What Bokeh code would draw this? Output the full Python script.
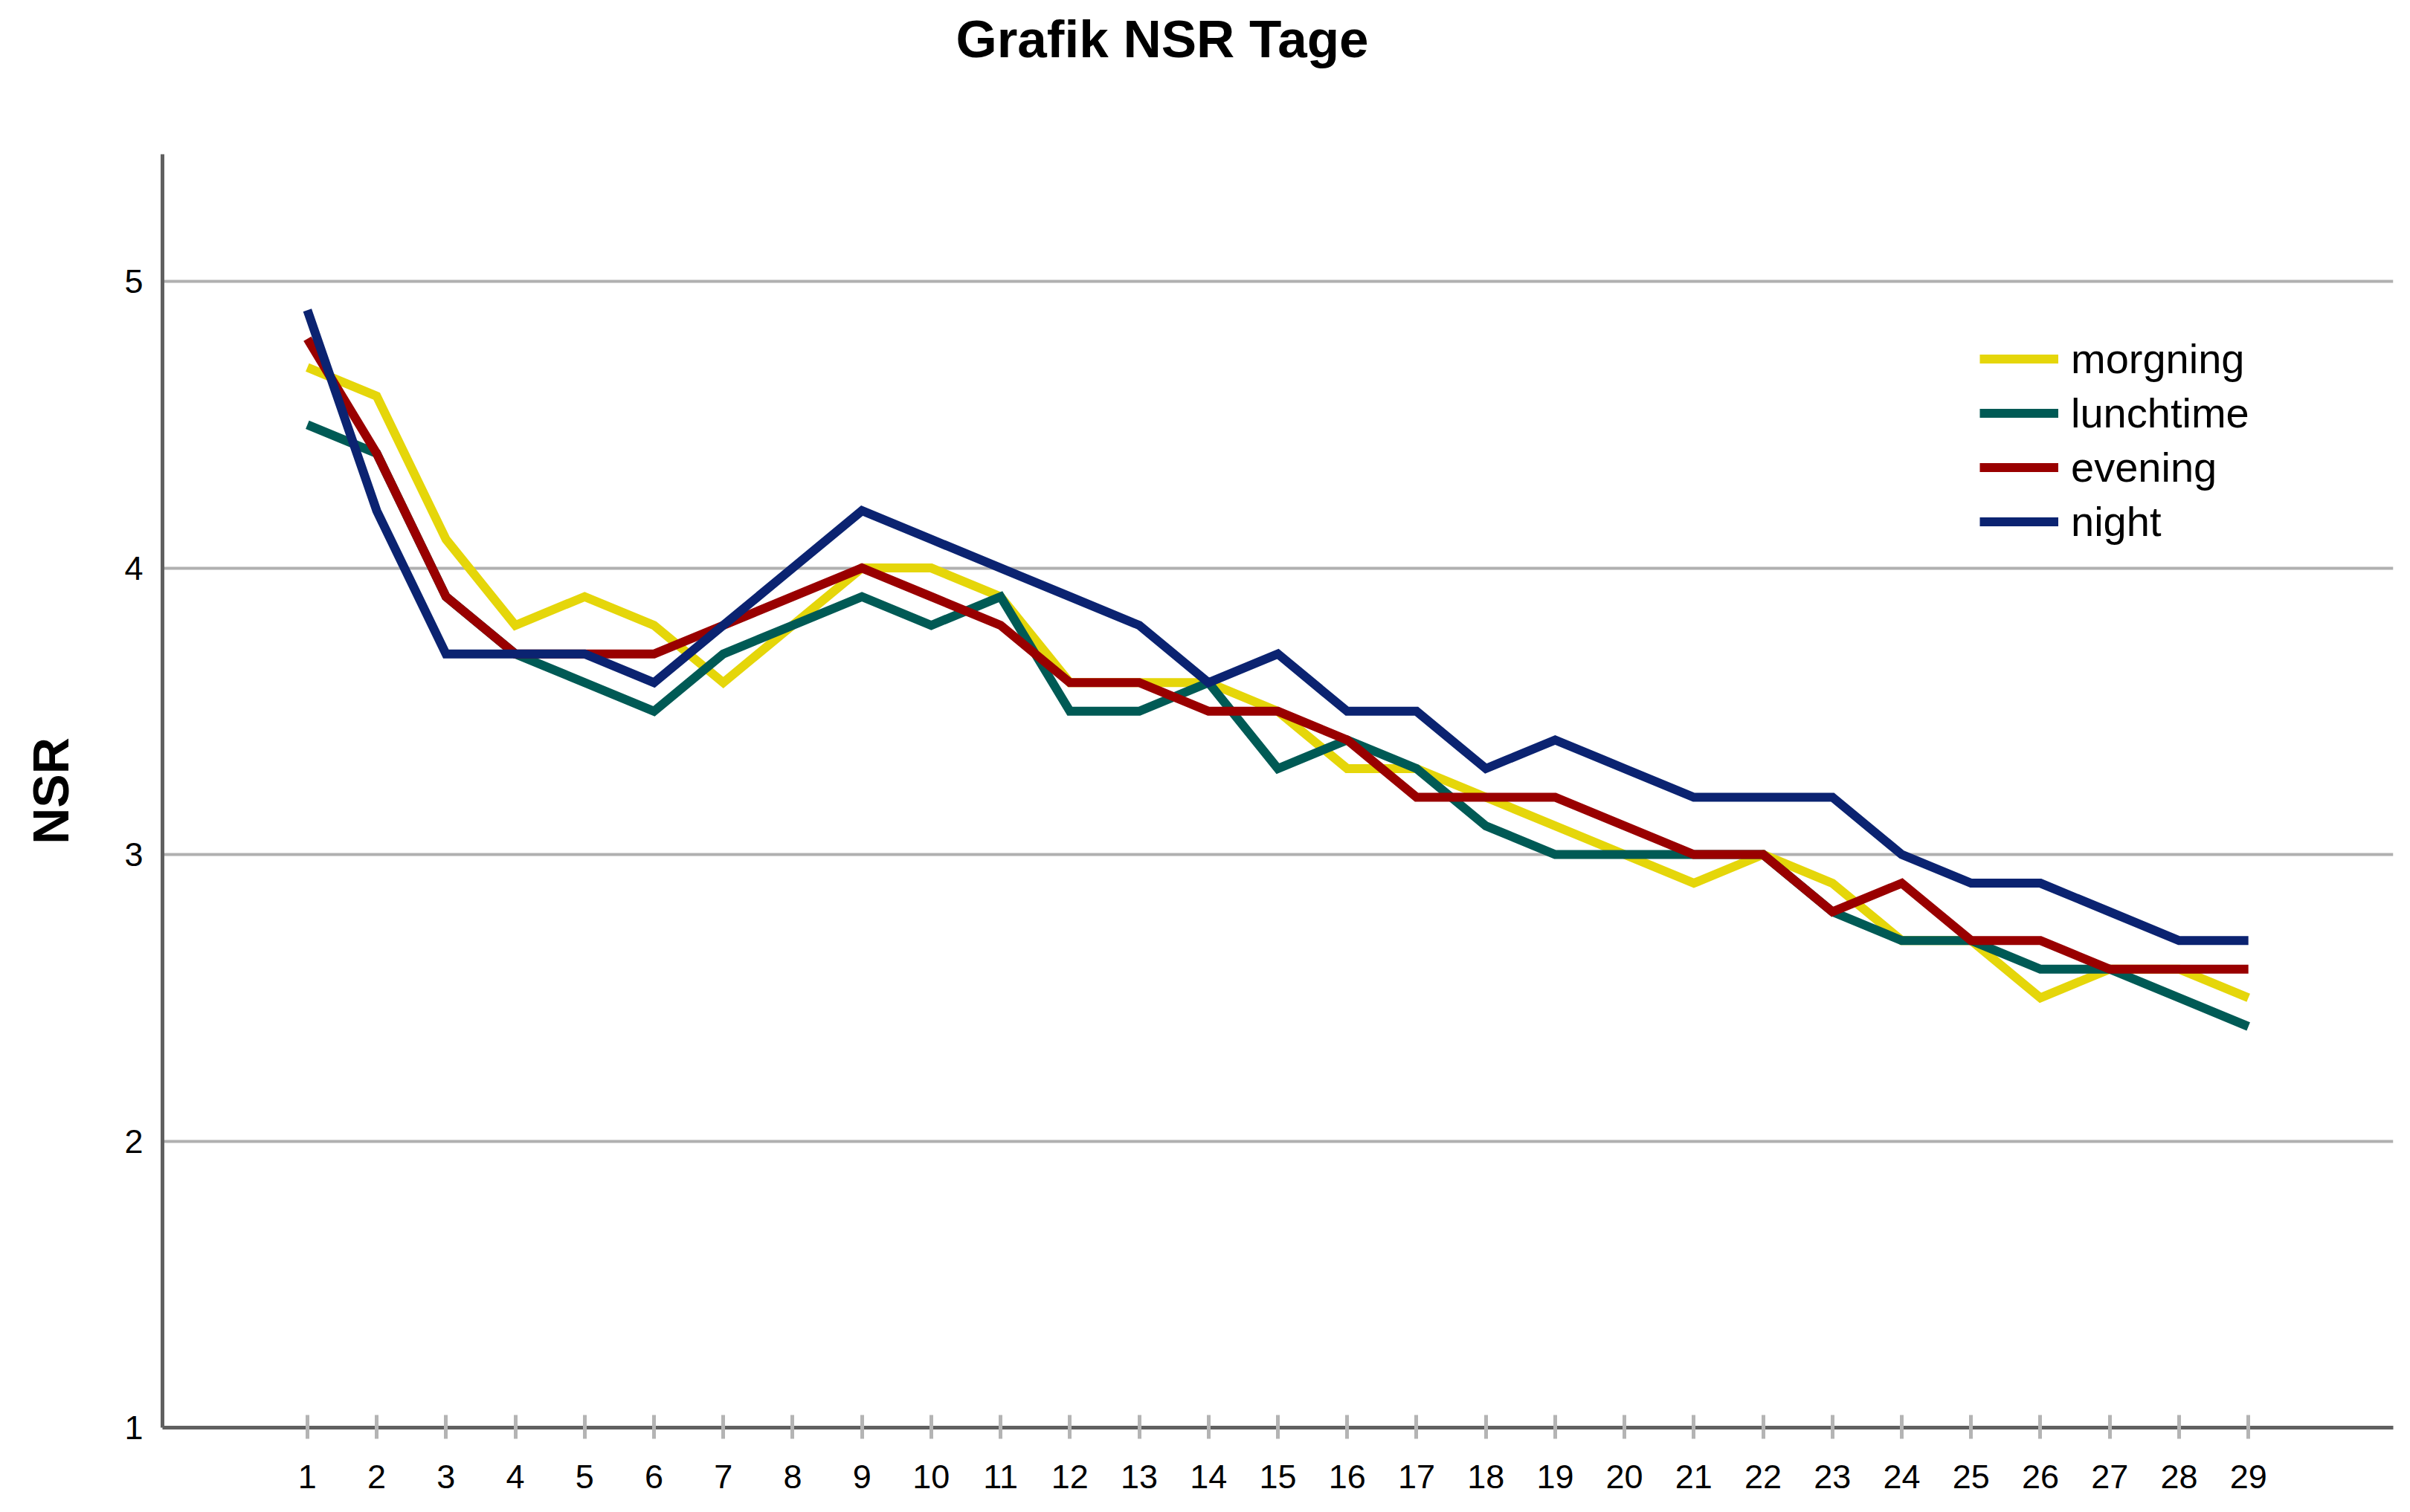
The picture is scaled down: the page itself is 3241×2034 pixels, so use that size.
from bokeh.plotting import figure
from bokeh.models import Range1d, FixedTicker, Legend, LegendItem, Title
from bokeh.embed import file_html
from bokeh.resources import INLINE

days = list(range(1, 30))
day_labels = [str(d) for d in days]
y_ticks = [1, 2, 3, 4, 5]

morgning = [4.7, 4.6, 4.1, 3.8, 3.9, 3.8, 3.6, 3.8, 4.0, 4.0, 3.9, 3.6, 3.6, 3.6, 3.5,
            3.3, 3.3, 3.2, 3.1, 3.0, 2.9, 3.0, 2.9, 2.7, 2.7, 2.5, 2.6, 2.6, 2.5]
lunchtime = [4.5, 4.4, 3.9, 3.7, 3.6, 3.5, 3.7, 3.8, 3.9, 3.8, 3.9, 3.5, 3.5, 3.6, 3.3,
             3.4, 3.3, 3.1, 3.0, 3.0, 3.0, 3.0, 2.8, 2.7, 2.7, 2.6, 2.6, 2.5, 2.4]
evening = [4.8, 4.4, 3.9, 3.7, 3.7, 3.7, 3.8, 3.9, 4.0, 3.9, 3.8, 3.6, 3.6, 3.5, 3.5,
           3.4, 3.2, 3.2, 3.2, 3.1, 3.0, 3.0, 2.8, 2.9, 2.7, 2.7, 2.6, 2.6, 2.6]
night = [4.9, 4.2, 3.7, 3.7, 3.7, 3.6, 3.8, 4.0, 4.2, 4.1, 4.0, 3.9, 3.8, 3.6, 3.7,
         3.5, 3.5, 3.3, 3.4, 3.3, 3.2, 3.2, 3.2, 3.0, 2.9, 2.9, 2.8, 2.7, 2.7]

series_names = ["morgning", "lunchtime", "evening", "night"]
series_values = [morgning, lunchtime, evening, night]
series_colors = ["#E5D60A", "#005A55", "#990000", "#0B2371"]
chart_title = "Grafik NSR Tage"

p = figure(width=3225, height=2018, output_backend="svg", toolbar_location=None,
           title_location=None,
           x_range=Range1d(-1.09, 31.09), y_range=Range1d(1, 5.444),
           min_border_left=218, min_border_right=7, min_border_top=207,
           min_border_bottom=98)
p.outline_line_color = None
p.background_fill_color = "white"
p.border_fill_color = "white"

# spacer between frame and title, then the title itself (stacked outward)
p.add_layout(Title(text=" ", text_font_size="1px", standoff=108), "above")
p.add_layout(Title(text=chart_title, align="left", offset=1067, standoff=10,
                   text_font="Liberation Sans", text_font_style="bold",
                   text_font_size="71px", text_color="black"), "above")

# Grid
p.xgrid.visible = False
p.ygrid.ticker = FixedTicker(ticks=[2, 3, 4, 5])
p.ygrid.grid_line_color = "#b0b0b0"
p.ygrid.grid_line_width = 4

# Axes
for ax in (p.xaxis[0], p.yaxis[0]):
    ax.axis_line_color = "#606060"
    ax.axis_line_width = 5
    ax.minor_tick_line_color = None
    ax.major_label_text_font = "Liberation Sans"
    ax.major_label_text_font_size = "45px"
    ax.major_label_text_color = "black"

p.xaxis.ticker = FixedTicker(ticks=days)
p.xaxis.major_label_overrides = {d: l for d, l in zip(days, day_labels)}
p.xaxis.major_tick_in = 17
p.xaxis.major_tick_out = 15
p.xaxis.major_tick_line_color = "#b4b4b4"
p.xaxis.major_tick_line_width = 5
p.xaxis.major_label_standoff = 35

p.yaxis.ticker = FixedTicker(ticks=y_ticks)
p.yaxis.major_tick_in = 0
p.yaxis.major_tick_out = 0
p.yaxis.major_label_standoff = 26
p.yaxis.axis_label = "NSR"
p.yaxis.axis_label_text_font = "Liberation Sans"
p.yaxis.axis_label_text_font_style = "bold"
p.yaxis.axis_label_text_font_size = "68px"
p.yaxis.axis_label_standoff = 58
p.yaxis.axis_label_text_color = "black"

items = []
for name, vals, col in zip(series_names, series_values, series_colors):
    r = p.line(days, vals, line_width=12, line_color=col, line_join="miter")
    items.append(LegendItem(label=name, renderers=[r]))

legend = Legend(items=items, location=(2444, 1182), padding=0, margin=0, spacing=0,
                glyph_width=106, glyph_height=73, label_height=73, label_standoff=17,
                label_text_font="Liberation Sans", label_text_font_size="56px",
                label_text_color="black", border_line_color=None,
                background_fill_alpha=0)
p.add_layout(legend, "center")

open("out.html", "w").write(file_html(p, INLINE))
